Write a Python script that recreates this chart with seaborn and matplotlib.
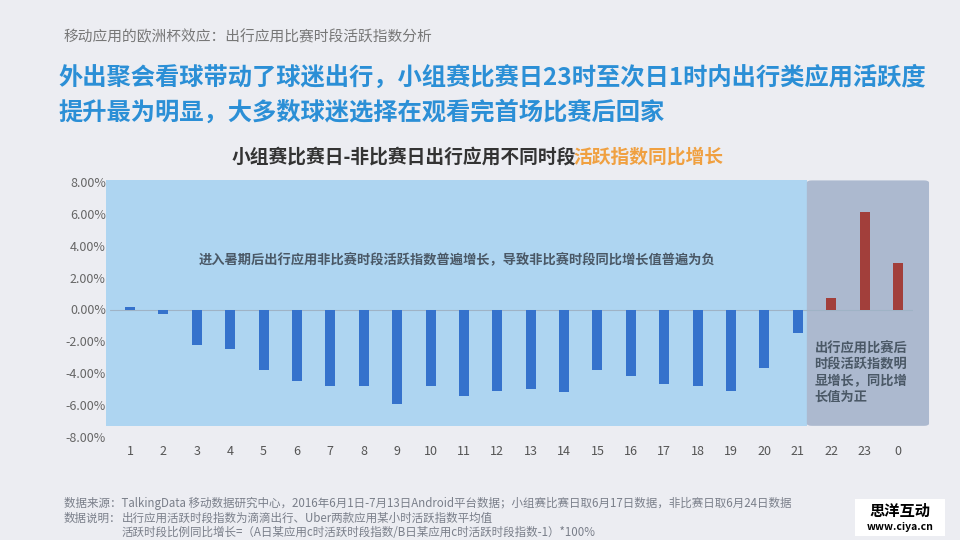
import numpy as np
import pandas as pd
import matplotlib
matplotlib.use('Agg')
import matplotlib.pyplot as plt
import matplotlib.patches as mpatches
import seaborn as sns

# data
hours = ['1', '2', '3', '4', '5', '6', '7', '8', '9', '10', '11', '12',
         '13', '14', '15', '16', '17', '18', '19', '20', '21', '22', '23', '0']
growth = [0.15, -0.3, -2.2, -2.5, -3.8, -4.5, -4.8, -4.8, -5.9, -4.8, -5.4, -5.1,
          -5.0, -5.2, -3.8, -4.2, -4.7, -4.8, -5.1, -3.7, -1.5, 0.75, 6.1, 2.9]
period = ['非比赛时段'] * 21 + ['比赛后时段'] * 3
y_ticks = [8, 6, 4, 2, 0, -2, -4, -6, -8]

sns.set_style('white')
plt.rcParams['font.family'] = ['Noto Sans CJK SC', 'DejaVu Sans']

BG = '#ecedf2'
fig = plt.figure(figsize=(9.6, 5.4), dpi=100, facecolor=BG)
ax = fig.add_axes([110 / 960, 1 - 437 / 540, 803 / 960, 255 / 540])
ax.set_facecolor('none')

df = pd.DataFrame({'hour': hours, 'growth': growth, 'period': period})

# background panels
ax.add_patch(mpatches.Rectangle((-0.72, -7.3), 20.99, 15.4, facecolor='#aed5f1',
                                edgecolor='none', zorder=0, clip_on=False))
ax.add_patch(mpatches.FancyBboxPatch((20.27, -7.3), 3.66, 15.4,
                                     boxstyle='round,pad=0,rounding_size=0.15',
                                     facecolor='#acb9cf', edgecolor='none',
                                     zorder=0, clip_on=False))

ax.axhline(0, color='#9fb3c6', lw=0.8, zorder=1)

sns.barplot(data=df, x='hour', y='growth', hue='period', order=hours,
            palette={'非比赛时段': '#3572cc', '比赛后时段': '#a23f3b'},
            dodge=False, width=0.3, legend=False, saturation=1, linewidth=0,
            ax=ax, zorder=2)

ax.set_xlim(-0.6, 23.45)
ax.set_ylim(-8, 8)
ax.set_yticks(y_ticks)
ax.set_yticklabels([f'{t:.2f}%' for t in y_ticks], fontsize=9, color='#666666')
ax.tick_params(axis='x', labelsize=9, labelcolor='#555555', length=0, pad=6)
ax.tick_params(axis='y', length=0, pad=3)
ax.set_xlabel('')
ax.set_ylabel('')
for s in ax.spines.values():
    s.set_visible(False)

# annotations inside the chart
ax.text(2.07, 3.1, '进入暑期后出行应用非比赛时段活跃指数普遍增长，导致非比赛时段同比增长值普遍为负',
        fontsize=9.5, color='#4a5866', fontweight='bold', va='center', ha='left')
ax.text(20.5, -2.0, '出行应用比赛后\n时段活跃指数明\n显增长，同比增\n长值为正',
        fontsize=9.5, color='#4a5866', fontweight='bold', va='top', ha='left',
        linespacing=1.2)

# page texts
fig.text(64 / 960, 1 - 37 / 540, '移动应用的欧洲杯效应：出行应用比赛时段活跃指数分析',
         fontsize=10.6, color='#777777', va='center')
fig.text(58 / 960, 1 - 78 / 540, '外出聚会看球带动了球迷出行，小组赛比赛日23时至次日1时内出行类应用活跃度',
         fontsize=17.5, color='#2b8fd6', fontweight='bold', va='center')
fig.text(58 / 960, 1 - 112 / 540, '提升最为明显，大多数球迷选择在观看完首场比赛后回家',
         fontsize=17.5, color='#2b8fd6', fontweight='bold', va='center')

t1 = fig.text(232 / 960, 1 - 157 / 540, '小组赛比赛日-非比赛日出行应用不同时段',
              fontsize=13.5, color='#333333', fontweight='bold', va='center')
fig.canvas.draw()
bb = t1.get_window_extent()
fig.text((bb.x1 - 3) / 960, 1 - 157 / 540, '活跃指数同比增长',
         fontsize=13.5, color='#f0a040', fontweight='bold', va='center')

# footnotes
fig.text(64 / 960, 1 - 503 / 540,
         '数据来源：TalkingData 移动数据研究中心，2016年6月1日-7月13日Android平台数据；小组赛比赛日取6月17日数据，非比赛日取6月24日数据',
         fontsize=8.3, color='#7a7f8a', va='center')
lab = fig.text(64 / 960, 1 - 518 / 540, '数据说明：', fontsize=8.3, color='#7a7f8a', va='center')
fig.canvas.draw()
x_ind = lab.get_window_extent().x1 / 960
fig.text(x_ind, 1 - 518 / 540, '出行应用活跃时段指数为滴滴出行、Uber两款应用某小时活跃指数平均值',
         fontsize=8.3, color='#7a7f8a', va='center')
fig.text(x_ind, 1 - 533 / 540, '活跃时段比例同比增长=（A日某应用c时活跃时段指数/B日某应用c时活跃时段指数-1）*100%',
         fontsize=8.3, color='#7a7f8a', va='center')

# watermark box
fig.patches.append(mpatches.Rectangle((855 / 960, 1 - 536 / 540), 90 / 960, 37 / 540,
                                      transform=fig.transFigure, facecolor='white',
                                      edgecolor='none'))
fig.text(900 / 960, 1 - 511 / 540, '思洋互动', fontsize=11, fontweight='bold',
         color='black', ha='center', va='center')
fig.text(900 / 960, 1 - 527 / 540, 'www.ciya.cn', fontsize=7.5, fontweight='bold',
         color='black', ha='center', va='center')

plt.savefig('out.png', dpi=100, facecolor=BG)
